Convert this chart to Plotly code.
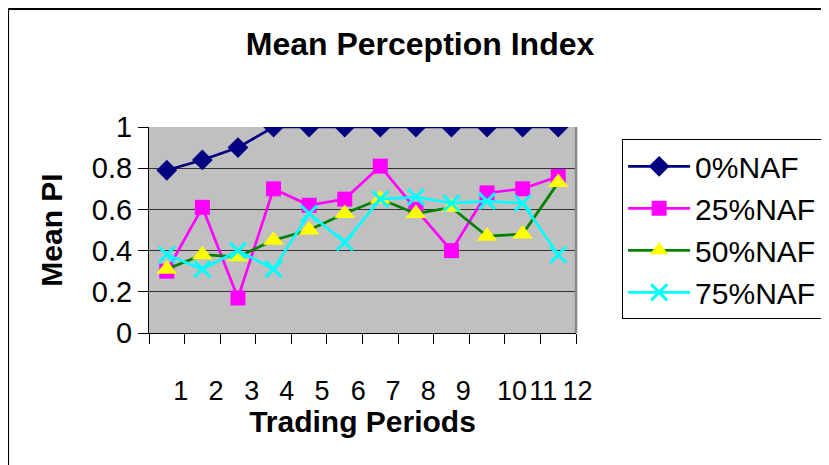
import plotly.graph_objects as go

PERIODS = list(range(1, 13))
PERIOD_LABELS = [str(p) for p in PERIODS]

naf_0 = [0.79, 0.84, 0.90, 1.0, 1.0, 1.0, 1.0, 1.0, 1.0, 1.0, 1.0, 1.0]
naf_25 = [0.30, 0.61, 0.17, 0.70, 0.62, 0.65, 0.81, 0.60, 0.40, 0.68, 0.70, 0.76]
naf_50 = [0.31, 0.38, 0.37, 0.45, 0.50, 0.58, 0.65, 0.58, 0.61, 0.47, 0.48, 0.73]
naf_75 = [0.38, 0.31, 0.40, 0.31, 0.58, 0.44, 0.65, 0.66, 0.63, 0.64, 0.63, 0.38]

FONT = "Arial, Liberation Sans, sans-serif"

# excel-ish label placement under the category boundaries (layout nudge only)
label_nudge = [0.11, 0.10, 0.11, 0.09, 0.08, 0.10, 0.08, 0.07, 0.05, 0.42, 0.30, 0.26]

series = [
    ("0%NAF", naf_0, "#000080", "#000080", "diamond", 16),
    ("25%NAF", naf_25, "#FF00FF", "#FF00FF", "square", 15),
    ("50%NAF", naf_50, "#008000", "#FFFF00", "triangle-up", 18),
    ("75%NAF", naf_75, "#00FFFF", "#00FFFF", "x-thin", 16),
]

fig = go.Figure()
for name, vals, lc, mc, sym, size in series:
    marker = dict(symbol=sym, size=size, color=mc, line=dict(width=0))
    if sym == "x-thin":
        marker["line"] = dict(width=3, color=mc)
    fig.add_trace(go.Scatter(
        x=PERIODS, y=vals, name=name, mode="lines+markers",
        line=dict(color=lc, width=2.7), marker=marker, legendgroup=name,
    ))

# holder trace so the label axis gets drawn
fig.add_trace(go.Scatter(x=PERIODS, y=[None] * 12, xaxis="x2", showlegend=False,
                         hoverinfo="skip", mode="lines"))

fig.update_layout(
    width=829, height=465,
    margin=dict(l=141, r=261, t=119, b=140),
    paper_bgcolor="white",
    plot_bgcolor="#C0C0C0",
    font=dict(family=FONT, size=29, color="black"),
    title=dict(text="<b>Mean Perception Index</b>", x=0.497, xanchor="center",
               y=0.923, yanchor="middle", font=dict(size=32)),
    showlegend=True,
    legend=dict(x=1.108, y=0.94, xanchor="left", yanchor="top",
                bordercolor="black", borderwidth=1, bgcolor="white",
                font=dict(size=30), traceorder="grouped", tracegroupgap=0,
                itemwidth=62),
    xaxis=dict(range=[0.5, 12.5], tickmode="array",
               tickvals=[p - 0.5 for p in PERIODS] + [12.5],
               ticks="outside", ticklen=10, tickcolor="black", tickwidth=1,
               showticklabels=False, showgrid=False, zeroline=False,
               showline=True, linecolor="black", linewidth=1,
               title=dict(text="<b>Trading Periods</b>", standoff=67,
                          font=dict(size=30))),
    xaxis2=dict(overlaying="x", anchor="y", side="bottom", range=[0.5, 12.5],
                tickmode="array", tickangle=0, tickfont=dict(size=27),
                tickvals=[p + n for p, n in zip(PERIODS, label_nudge)],
                ticktext=PERIOD_LABELS, ticks="", showgrid=False,
                zeroline=False, showline=False, ticklabelshift=10,
                ticklabelstandoff=39),
    yaxis=dict(range=[0, 1], dtick=0.2, ticks="outside", ticklen=10,
               tickcolor="black", showgrid=True, gridcolor="#333333",
               gridwidth=1, zeroline=False, showline=True,
               linecolor="black", linewidth=1,
               title=dict(text="<b>Mean PI</b>", standoff=20,
                          font=dict(size=30))),
    shapes=[
        dict(type="line", xref="x domain", yref="y domain", x0=1, x1=1,
             y0=0, y1=1, line=dict(color="#888888", width=2.5)),
        dict(type="line", xref="paper", yref="paper", x0=-0.33, x1=1.6,
             y0=1.573, y1=1.573, line=dict(color="black", width=2)),
        dict(type="line", xref="paper", yref="paper", x0=-0.33, x1=-0.33,
             y0=1.573, y1=-0.7, line=dict(color="black", width=2)),
    ],
)

fig.write_html("out.html")
